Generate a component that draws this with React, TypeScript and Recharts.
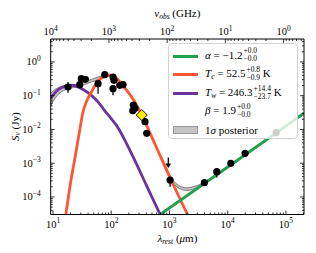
import React from 'react'
import {
  ComposedChart,
  Line,
  Area,
  Scatter,
  ErrorBar,
  XAxis,
  YAxis,
  Legend,
} from 'recharts'

// ─── Data: log10 λ_rest (μm) vs log10 S_ν (Jy) ─────────────────────────────
const lamWarm = [0.96, 1.05, 1.15, 1.25, 1.32, 1.42, 1.53, 1.66, 1.78, 1.89, 2.0, 2.09, 2.21, 2.4, 2.6, 2.84]
const sWarm = [-1.07, -0.88, -0.76, -0.7, -0.69, -0.73, -0.83, -0.99, -1.2, -1.45, -1.68, -1.88, -2.24, -2.9, -3.64, -4.52]

const lamCold = [1.22, 1.29, 1.39, 1.46, 1.515, 1.58, 1.66, 1.75, 1.89, 1.98, 2.06, 2.15, 2.26, 2.4, 2.52, 2.75, 2.98, 3.31]
const sCold = [-4.52, -3.7, -2.71, -2.0, -1.48, -1.15, -0.89, -0.62, -0.42, -0.39, -0.44, -0.59, -0.83, -1.17, -1.56, -2.43, -3.32, -4.52]

const lamPL = [2.84, 3.5, 4.3, 5.31]
const sPL = [-4.52, -3.72, -2.75, -1.52]

const bandLam = [0.96, 1.05, 1.15, 1.257, 1.35, 1.486, 1.6, 1.716, 1.8, 1.89, 1.98, 2.06, 2.15, 2.26, 2.4, 2.52, 2.75, 2.95, 3.04, 3.18, 3.3, 3.4, 3.52, 3.7, 4.0, 4.5, 5.0, 5.31]
const bandLo = [-1.3, -1.04, -0.88, -0.8, -0.76, -0.71, -0.63, -0.56, -0.5, -0.44, -0.41, -0.46, -0.61, -0.85, -1.19, -1.58, -2.45, -3.2, -3.52, -3.76, -3.81, -3.78, -3.69, -3.49, -3.14, -2.53, -1.93, -1.54]
const bandHi = [-0.92, -0.8, -0.72, -0.69, -0.68, -0.63, -0.55, -0.48, -0.43, -0.39, -0.37, -0.42, -0.57, -0.81, -1.15, -1.54, -2.41, -3.14, -3.45, -3.68, -3.73, -3.7, -3.63, -3.45, -3.1, -2.49, -1.89, -1.5]

const ptLam = [1.257, 1.458, 1.486, 1.555, 1.773, 1.888, 2.03, 2.048, 2.03, 2.146, 2.202, 2.379, 2.408, 2.369, 2.58, 2.609, 3.01, 3.599, 3.812, 4.053, 4.298, 4.831]
const ptS = [-0.742, -0.674, -0.496, -0.514, -0.644, -0.378, -0.446, -0.544, -0.793, -0.692, -0.674, -1.276, -1.373, -1.444, -1.77, -2.114, -3.498, -3.578, -3.252, -3.003, -2.707, -2.096]
const ptErrLo = [0.17, 0, 0, 0, 0.3, 0, 0, 0, 0.19, 0, 0, 0, 0, 0, 0, 0, 0.2, 0, 0.17, 0, 0, 0]
const ptErrHi = [0.15, 0, 0, 0, 0.09, 0, 0, 0, 0.03, 0, 0, 0, 0, 0, 0, 0, 0.05, 0, 0.1, 0, 0, 0]

const limLam = [2.98]
const limS = [-2.98]

const extraLam = [2.524]
const extraS = [-1.572]

// axis ticks
const xMajor = [1, 2, 3, 4, 5]
const yMajor = [-4, -3, -2, -1, 0]
const nuMajor = [4, 3, 2, 1, 0]

const LAM_DOMAIN: [number, number] = [0.96, 5.31]
const S_DOMAIN: [number, number] = [-4.52, 0.68]
const LOG_NU_SHIFT = 4.96 // log10(c / (1+z)) in GHz·μm

const GREEN = '#22a04e'
const ORANGE = '#fc5632'
const PURPLE = '#6a33a0'
const FONT = '"Liberation Serif", "DejaVu Serif", serif'

const toPts = (xs: number[], ys: number[]) => xs.map((x, i) => ({ x, s: ys[i] }))

const warmData = toPts(lamWarm, sWarm)
const coldData = toPts(lamCold, sCold)
const plData = toPts(lamPL, sPL)
const bandData = bandLam.map((x, i) => ({ x, band: [bandLo[i], bandHi[i]] }))
const pointData = ptLam.map((x, i) => ({ x, s: ptS[i], err: [ptErrLo[i], ptErrHi[i]] }))
const limData = toPts(limLam, limS)
const extraData = toPts(extraLam, extraS)

const inRange = (v: number, [a, b]: [number, number]) => v >= a - 1e-9 && v <= b + 1e-9
const isInt = (v: number) => Math.abs(v - Math.round(v)) < 1e-6

// majors plus 2..9 minors, shifted by `shift` and mirrored if `flip`
function logTicks(majors: number[], domain: [number, number], shift = 0, flip = false) {
  const out: number[] = []
  const lo = Math.min(...majors) - 1
  const hi = Math.max(...majors) + 1
  for (let k = lo; k <= hi; k++) {
    for (let m = 1; m <= 9; m++) {
      const e = k + Math.log10(m)
      const v = flip ? shift - e : e
      if (inRange(v, domain)) out.push(v)
    }
  }
  return out.sort((a, b) => a - b)
}

const xTicks = logTicks(xMajor, LAM_DOMAIN)
const yTicks = logTicks(yMajor, S_DOMAIN)
const nuTicks = logTicks(nuMajor, LAM_DOMAIN, LOG_NU_SHIFT, true)

const MAJ = 4
const MIN = 2

const Pow = ({ x, y, exp, anchor }: any) => (
  <text x={x} y={y} textAnchor={anchor} fontFamily={FONT} fontSize={10.5} fill="#000">
    10
    <tspan dy={-4.5} fontSize={7.5}>
      {exp}
    </tspan>
  </text>
)

const BottomTick = ({ x, y, payload }: any) => {
  const v = payload.value
  const major = isInt(v)
  return (
    <g>
      <line x1={x} x2={x} y1={y} y2={y - (major ? MAJ : MIN)} stroke="#000" strokeWidth={0.8} />
      {major && <Pow x={x} y={y + 13} exp={Math.round(v)} anchor="middle" />}
    </g>
  )
}

const TopTick = ({ x, y, payload }: any) => {
  const e = LOG_NU_SHIFT - payload.value
  const major = isInt(e)
  return (
    <g>
      <line x1={x} x2={x} y1={y} y2={y + (major ? MAJ : MIN)} stroke="#000" strokeWidth={0.8} />
      {major && <Pow x={x} y={y - 4} exp={Math.round(e)} anchor="middle" />}
    </g>
  )
}

const LeftTick = ({ x, y, payload }: any) => {
  const v = payload.value
  const major = isInt(v)
  const n = Math.round(v)
  return (
    <g>
      <line x1={x} x2={x + (major ? MAJ : MIN)} y1={y} y2={y} stroke="#000" strokeWidth={0.8} />
      {major && <Pow x={x - 10} y={y + 3.5} exp={n === 0 ? '0' : `\u2212${-n}`} anchor="end" />}
    </g>
  )
}

const RightTick = ({ x, y, payload }: any) => {
  const major = isInt(payload.value)
  return <line x1={x} x2={x - (major ? MAJ : MIN)} y1={y} y2={y} stroke="#000" strokeWidth={0.8} />
}

const Dot = ({ cx, cy }: any) => <circle cx={cx} cy={cy} r={3.6} fill="#000" />

const DiamondMark = ({ cx, cy }: any) => (
  <polygon
    points={`${cx},${cy - 5.5} ${cx + 5.5},${cy} ${cx},${cy + 5.5} ${cx - 5.5},${cy}`}
    fill="#ffee00"
    stroke="#000"
    strokeWidth={0.9}
  />
)

const ArrowMark = ({ cx, cy }: any) => (
  <g>
    <line x1={cx} x2={cx} y1={cy - 5} y2={cy + 3} stroke="#000" strokeWidth={1.3} />
    <polygon points={`${cx - 2.8},${cy + 1} ${cx + 2.8},${cy + 1} ${cx},${cy + 5.5}`} fill="#000" />
  </g>
)

// ─── Legend ────────────────────────────────────────────────────────────────
const Scripts = ({ sup, sub }: { sup: string; sub: string }) => (
  <span
    style={{
      display: 'inline-flex',
      flexDirection: 'column',
      verticalAlign: 'middle',
      fontSize: 7.5,
      lineHeight: '8px',
      marginLeft: 1,
      marginTop: -2,
    }}
  >
    <span>{sup}</span>
    <span>{sub}</span>
  </span>
)

const I = ({ children }: any) => <span style={{ fontStyle: 'italic' }}>{children}</span>
const Sub = ({ children }: any) => (
  <span style={{ fontSize: 7.5, fontStyle: 'italic', position: 'relative', top: 2 }}>{children}</span>
)

const legendRows = [
  { top: 12, swatch: GREEN, text: <><I>α</I> = −1.2<Scripts sup="+0.0" sub="−0.0" /></> },
  { top: 30.5, swatch: ORANGE, text: <><I>T</I><Sub>c</Sub> = 52.5<Scripts sup="+0.8" sub="−0.9" /> K</> },
  { top: 49.5, swatch: PURPLE, text: <><I>T</I><Sub>w</Sub> = 246.3<Scripts sup="+14.4" sub="−23.7" /> K</> },
  { top: 67.5, swatch: null, text: <><I>β</I> = 1.9<Scripts sup="+0.0" sub="−0.0" /></> },
  { top: 86, swatch: 'band', text: <>1<I>σ</I> posterior</> },
]

const LegendBox = () => (
  <div
    style={{
      position: 'relative',
      width: 130,
      height: 96,
      boxSizing: 'border-box',
      border: '1px solid #d2d2d2',
      borderRadius: 4,
      background: 'rgba(255,255,255,0.8)',
      fontFamily: FONT,
      fontSize: 11,
      color: '#000',
    }}
  >
    {legendRows.map((r, i) => (
      <div key={i} style={{ position: 'absolute', left: 0, top: r.top - 9, height: 18, width: 128 }}>
        {r.swatch === 'band' ? (
          <div
            style={{
              position: 'absolute',
              left: 4,
              top: 5,
              width: 25,
              height: 8,
              background: '#c4c4c4',
              border: '0.5px solid #999',
              boxSizing: 'border-box',
            }}
          />
        ) : r.swatch ? (
          <div style={{ position: 'absolute', left: 4, top: 7.5, width: 25, height: 3, background: r.swatch }} />
        ) : null}
        <div
          style={{
            position: 'absolute',
            left: 36,
            top: 0,
            height: 18,
            display: 'flex',
            alignItems: 'center',
            whiteSpace: 'nowrap',
          }}
        >
          <span>{r.text}</span>
        </div>
      </div>
    ))}
  </div>
)

// ─── Axis titles ───────────────────────────────────────────────────────────
const titleStyle = { fill: '#000', stroke: 'none' }

const BottomTitle = ({ viewBox }: any) => (
  <text x={viewBox.x + viewBox.width / 2} y={viewBox.y + 27.5} textAnchor="middle" fontFamily={FONT} fontSize={11} style={titleStyle}>
    <tspan fontStyle="italic">λ</tspan>
    <tspan fontStyle="italic" fontSize={7.5} dy={2}>rest</tspan>
    <tspan dy={-2}> (</tspan>
    <tspan fontStyle="italic">μ</tspan>
    <tspan>m)</tspan>
  </text>
)

const TopTitle = ({ viewBox }: any) => (
  <text x={viewBox.x + viewBox.width / 2} y={viewBox.y + 7.5} textAnchor="middle" fontFamily={FONT} fontSize={11} style={titleStyle}>
    <tspan fontStyle="italic">ν</tspan>
    <tspan fontStyle="italic" fontSize={7.5} dy={2}>obs</tspan>
    <tspan dy={-2}> (GHz)</tspan>
  </text>
)

const PLOT_MID_Y = 126.75
const LeftTitle = () => (
  <text
    x={15}
    y={PLOT_MID_Y}
    transform={`rotate(-90 15 ${PLOT_MID_Y})`}
    textAnchor="middle"
    dominantBaseline="central"
    fontFamily={FONT}
    fontSize={11}
    style={titleStyle}
  >
    <tspan fontStyle="italic">S</tspan>
    <tspan fontStyle="italic" fontSize={7.5} dy={2}>ν</tspan>
    <tspan dy={-2}> (Jy)</tspan>
  </text>
)

export default function App() {
  return (
    <div style={{ position: 'fixed', left: 0, top: 0, width: 316, height: 253, background: '#fff' }}>
      <ComposedChart width={316} height={253} margin={{ top: 9, right: 10, bottom: 8.5, left: 10.7 }}>
        <XAxis
          xAxisId="b"
          dataKey="x"
          type="number"
          orientation="bottom"
          height={30}
          domain={LAM_DOMAIN}
          allowDataOverflow
          ticks={xTicks}
          interval={0}
          tickSize={0}
          tickMargin={0}
          tick={<BottomTick />}
          axisLine={{ stroke: '#000', strokeWidth: 1 }}
          label={{ content: BottomTitle }}
        />
        <XAxis
          xAxisId="t"
          dataKey="x"
          type="number"
          orientation="top"
          height={30}
          domain={LAM_DOMAIN}
          allowDataOverflow
          ticks={nuTicks}
          interval={0}
          tickSize={0}
          tickMargin={0}
          tick={<TopTick />}
          axisLine={{ stroke: '#000', strokeWidth: 1 }}
          label={{ content: TopTitle }}
        />
        <YAxis
          yAxisId="l"
          type="number"
          orientation="left"
          width={40}
          domain={S_DOMAIN}
          allowDataOverflow
          ticks={yTicks}
          interval={0}
          tickSize={0}
          tickMargin={0}
          tick={<LeftTick />}
          axisLine={{ stroke: '#000', strokeWidth: 1 }}
          label={{ content: LeftTitle }}
        />
        <YAxis
          yAxisId="r"
          type="number"
          orientation="right"
          width={2}
          domain={S_DOMAIN}
          allowDataOverflow
          ticks={yTicks}
          interval={0}
          tickSize={0}
          tickMargin={0}
          tick={<RightTick />}
          axisLine={{ stroke: '#000', strokeWidth: 1 }}
        />

        <Area
          xAxisId="b"
          yAxisId="l"
          data={bandData}
          dataKey="band"
          type="monotone"
          fill="#c4c4c4"
          fillOpacity={1}
          stroke="#555"
          strokeWidth={0.7}
          isAnimationActive={false}
        />
        <Line xAxisId="b" yAxisId="l" data={warmData} dataKey="s" type="monotone" stroke={PURPLE} strokeWidth={2.8} dot={false} isAnimationActive={false} />
        <Line xAxisId="b" yAxisId="l" data={coldData} dataKey="s" type="monotone" stroke={ORANGE} strokeWidth={2.8} dot={false} isAnimationActive={false} />
        <Line xAxisId="b" yAxisId="l" data={plData} dataKey="s" type="linear" stroke={GREEN} strokeWidth={2.8} dot={false} isAnimationActive={false} />

        <Scatter xAxisId="b" yAxisId="l" data={pointData} dataKey="s" shape={<Dot />} isAnimationActive={false}>
          <ErrorBar dataKey="err" direction="y" width={0} stroke="#000" strokeWidth={1.3} isAnimationActive={false} />
        </Scatter>
        <Scatter xAxisId="b" yAxisId="l" data={limData} dataKey="s" shape={<ArrowMark />} isAnimationActive={false} />
        <Scatter xAxisId="b" yAxisId="l" data={extraData} dataKey="s" shape={<DiamondMark />} isAnimationActive={false} />

        <Legend
          layout="horizontal"
          verticalAlign="middle"
          align="center"
          content={() => <LegendBox />}
          wrapperStyle={{ left: 168, top: 43, width: 130, height: 96 }}
        />
      </ComposedChart>
    </div>
  )
}
